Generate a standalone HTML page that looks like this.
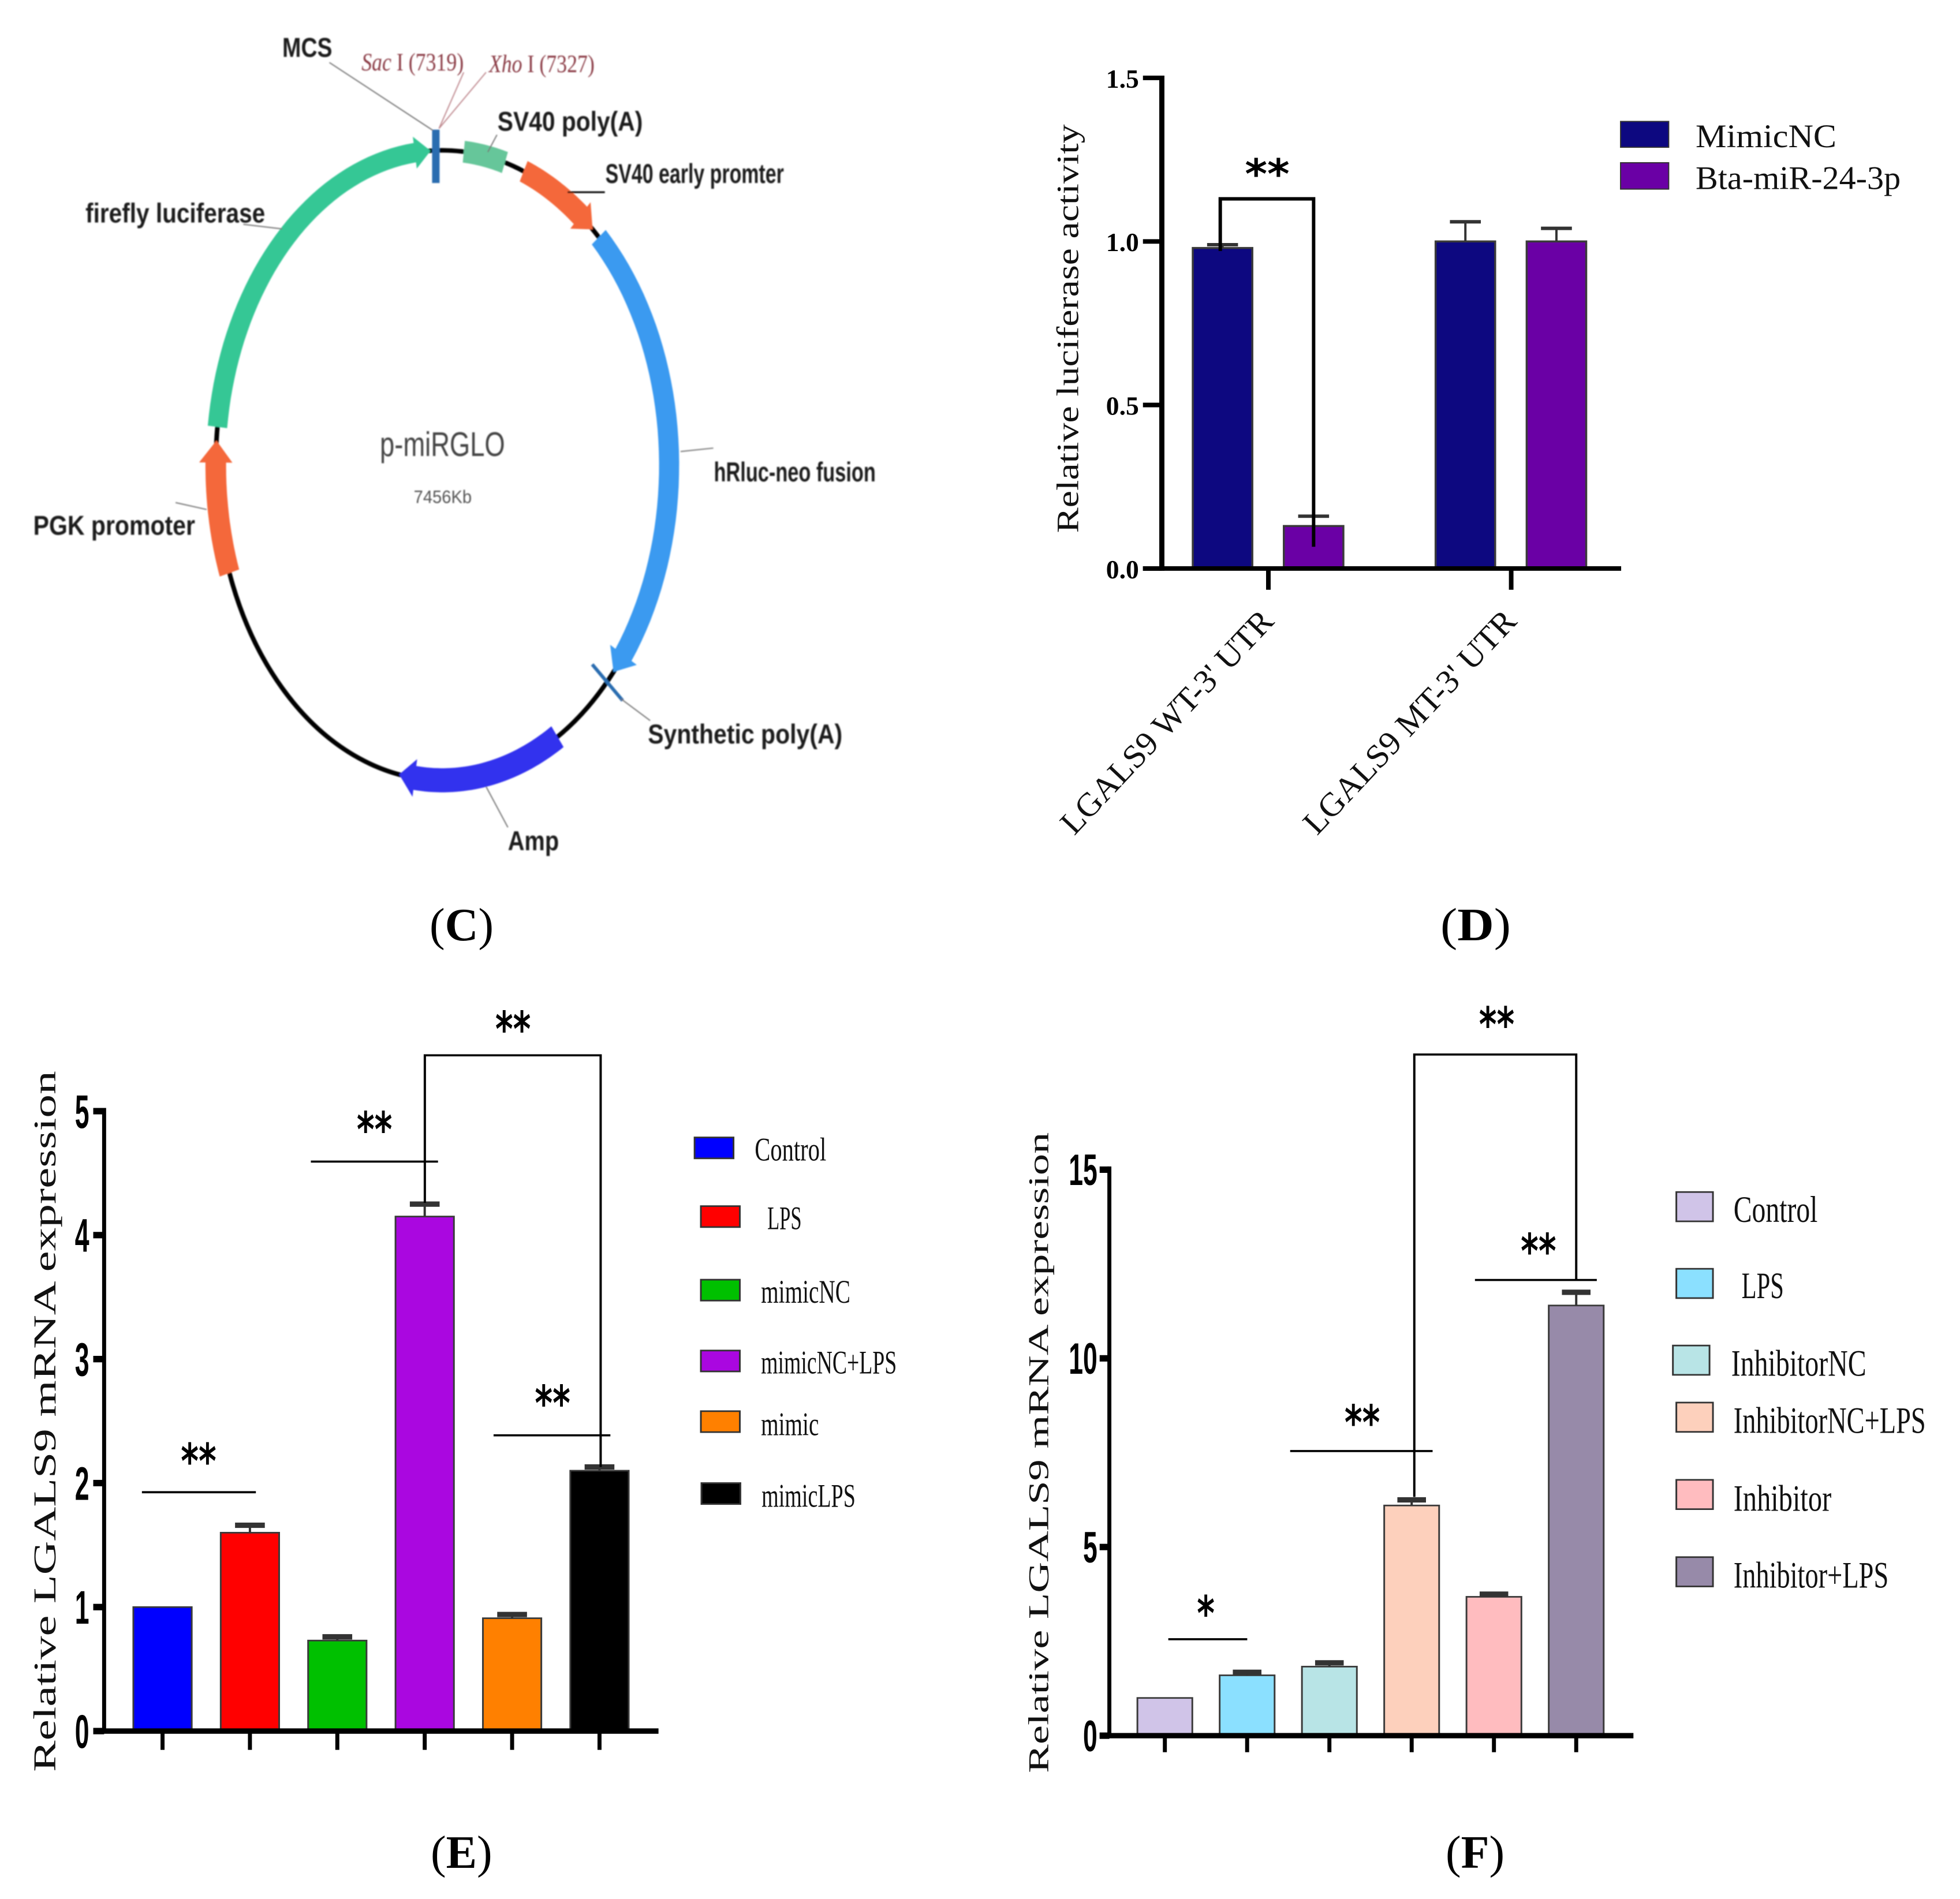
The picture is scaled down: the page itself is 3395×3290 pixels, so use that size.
<!DOCTYPE html>
<html lang="en">
<head>
<meta charset="utf-8">
<title>p-miRGLO plasmid and LGALS9 expression panels</title>
<style>
html,body{margin:0;padding:0;background:#fff;}
svg{display:block;}
.serif{font-family:"Liberation Serif",serif;}
.sans{font-family:"Liberation Sans",sans-serif;}
.pl{font-family:"Liberation Sans",sans-serif;font-weight:700;font-size:48px;fill:#1c1c1c;}
.site{font-family:"Liberation Serif",serif;font-size:44px;fill:#8a3a44;}
.panel{font-family:"Liberation Serif",serif;font-size:80px;fill:#000;}
.leg{font-family:"Liberation Serif",serif;font-size:62px;fill:#111;}
.legf{font-family:"Liberation Serif",serif;font-size:70px;fill:#111;}
.legd{font-family:"Liberation Serif",serif;font-size:58px;fill:#111;}
.star{font-family:"DejaVu Sans",sans-serif;font-weight:700;font-size:90px;fill:#000;}
.title{font-family:"Liberation Serif",serif;fill:#111;}
</style>
</head>
<body>
<svg id="figure" xmlns="http://www.w3.org/2000/svg" width="3395" height="3290" viewBox="0 0 3395 3290">
<defs><filter id="soft" filterUnits="userSpaceOnUse" x="0" y="0" width="1700" height="1600"><feGaussianBlur stdDeviation="1.2"/></filter></defs>
<rect width="3395" height="3290" fill="#fff"/>

<!-- Panel C -->
<g transform="matrix(.994 0 0 .994 0 0)">
<g id="plasmid" filter="url(#soft)">
  <ellipse cx="771" cy="811" rx="395" ry="549" fill="none" stroke="#000" stroke-width="8"/>
  <g id="plasmid-features"></g>
  <rect x="753" y="226" width="13" height="93" fill="#2a6db0"/>
  <line x1="1032" y1="1158" x2="1085" y2="1221" stroke="#2a6db0" stroke-width="6"/>
  <g stroke="#777" stroke-width="2" fill="none">
    <line x1="574" y1="109" x2="754" y2="227"/>
    <line x1="808" y1="126" x2="765" y2="224" stroke="#c08a90"/>
    <line x1="847" y1="126" x2="765" y2="224" stroke="#c08a90"/>
    <line x1="866" y1="235" x2="850" y2="265"/>
    <line x1="989" y1="335" x2="1054" y2="335" stroke="#000" stroke-width="3"/>
    <line x1="424" y1="391" x2="492" y2="399"/>
    <line x1="1186" y1="787" x2="1243" y2="781"/>
    <line x1="306" y1="876" x2="360" y2="888"/>
    <line x1="1082" y1="1218" x2="1133" y2="1256"/>
    <line x1="847" y1="1371" x2="885" y2="1442"/>
  </g>
  <text class="pl" x="492" y="99" textLength="87" lengthAdjust="spacingAndGlyphs">MCS</text>
  <text class="site" x="630" y="123" textLength="178" lengthAdjust="spacingAndGlyphs"><tspan font-style="italic">Sac</tspan> I (7319)</text>
  <text class="site" x="852" y="126" textLength="184" lengthAdjust="spacingAndGlyphs"><tspan font-style="italic">Xho</tspan> I (7327)</text>
  <text class="pl" x="867" y="228" textLength="253" lengthAdjust="spacingAndGlyphs">SV40 poly(A)</text>
  <text class="pl" x="1055" y="319" textLength="311" lengthAdjust="spacingAndGlyphs">SV40 early promter</text>
  <text class="pl" x="149" y="388" textLength="313" lengthAdjust="spacingAndGlyphs">firefly luciferase</text>
  <text class="pl" x="1244" y="839" textLength="282" lengthAdjust="spacingAndGlyphs">hRluc-neo fusion</text>
  <text class="pl" x="58" y="932" textLength="282" lengthAdjust="spacingAndGlyphs">PGK promoter</text>
  <text class="pl" x="1129" y="1296" textLength="339" lengthAdjust="spacingAndGlyphs">Synthetic poly(A)</text>
  <text class="pl" x="885" y="1482" textLength="89" lengthAdjust="spacingAndGlyphs">Amp</text>
  <text class="sans" x="662" y="795" font-size="60" fill="#444" textLength="218" lengthAdjust="spacingAndGlyphs">p-miRGLO</text>
  <text class="sans" x="721" y="877" font-size="32" fill="#555" textLength="101" lengthAdjust="spacingAndGlyphs">7456Kb</text>
</g>
</g>
<text class="panel" x="744" y="1629">(<tspan font-weight="700">C</tspan>)</text>

<!-- Panel D -->
<g id="chart-d" transform="matrix(.992 0 0 .993 13.6 .9)">
  <text class="title" font-size="54" transform="translate(1869,929) rotate(-90)" textLength="713" lengthAdjust="spacingAndGlyphs">Relative luciferase activity</text>
  <g id="d-marks"></g>
  <g stroke="#000" stroke-width="6" fill="none">
    <polyline points="2117,437 2117,346 2280,346 2280,953"/>
  </g>
  <text class="star" style="font-size:72px" x="2160" y="328" textLength="78" lengthAdjust="spacingAndGlyphs">**</text>
  <rect x="2816" y="211" width="84" height="45" fill="#0d0880" stroke="#333" stroke-width="2"/>
  <rect x="2816" y="283" width="84" height="46" fill="#6a00a5" stroke="#333" stroke-width="2"/>
  <text class="legd" x="2947" y="256" textLength="246" lengthAdjust="spacingAndGlyphs">MimicNC</text>
  <text class="legd" x="2947" y="329" textLength="358" lengthAdjust="spacingAndGlyphs">Bta-miR-24-3p</text>
</g>
<text class="panel" x="2495" y="1629" textLength="122" lengthAdjust="spacingAndGlyphs">(<tspan font-weight="700">D</tspan>)</text>

<!-- Panel E -->
<g id="chart-e" transform="matrix(.992 0 0 .9299 .8 117.3)">
  <text class="title" font-size="55" transform="translate(96,3175) rotate(-90)" textLength="1306" lengthAdjust="spacingAndGlyphs">Relative LGALS9 mRNA expression</text>
  <g id="e-marks"></g>
  <g stroke="#000" stroke-width="4" fill="none">
    <line x1="247" y1="2654" x2="446" y2="2654"/>
    <line x1="542" y1="2038" x2="764" y2="2038"/>
    <line x1="861" y1="2548" x2="1065" y2="2548"/>
    <polyline points="741,2115 741,1840 1048,1840 1048,2607"/>
  </g>
  <text class="star" x="315" y="2628" textLength="62" lengthAdjust="spacingAndGlyphs">**</text>
  <text class="star" x="622" y="2010" textLength="62" lengthAdjust="spacingAndGlyphs">**</text>
  <text class="star" x="933" y="2520" textLength="62" lengthAdjust="spacingAndGlyphs">**</text>
  <text class="star" x="864" y="1823" textLength="62" lengthAdjust="spacingAndGlyphs">**</text>
  <g stroke="#333" stroke-width="3">
    <rect x="1212" y="1993" width="68" height="39" fill="#0000ff"/>
    <rect x="1223" y="2121" width="68" height="39" fill="#ff0000"/>
    <rect x="1223" y="2258" width="68" height="39" fill="#00c000"/>
    <rect x="1223" y="2390" width="68" height="39" fill="#aa07e0"/>
    <rect x="1223" y="2503" width="68" height="39" fill="#ff8000"/>
    <rect x="1224" y="2637" width="68" height="39" fill="#000000"/>
  </g>
  <text class="leg" x="1317" y="2036" textLength="125" lengthAdjust="spacingAndGlyphs">Control</text>
  <text class="leg" x="1339" y="2164" textLength="60" lengthAdjust="spacingAndGlyphs">LPS</text>
  <text class="leg" x="1328" y="2301" textLength="156" lengthAdjust="spacingAndGlyphs">mimicNC</text>
  <text class="leg" x="1328" y="2433" textLength="237" lengthAdjust="spacingAndGlyphs">mimicNC+LPS</text>
  <text class="leg" x="1328" y="2548" textLength="101" lengthAdjust="spacingAndGlyphs">mimic</text>
  <text class="leg" x="1329" y="2681" textLength="164" lengthAdjust="spacingAndGlyphs">mimicLPS</text>
</g>
<text class="panel" x="746" y="3236">(<tspan font-weight="700">E</tspan>)</text>

<!-- Panel F -->
<g id="chart-f" transform="matrix(.991 0 0 .9234 13.9 136.2)">
  <text class="title" font-size="50" transform="translate(1818,3179) rotate(-90)" textLength="1202" lengthAdjust="spacingAndGlyphs">Relative LGALS9 mRNA expression</text>
  <g id="f-marks"></g>
  <g stroke="#000" stroke-width="4" fill="none">
    <line x1="2028" y1="2928" x2="2166" y2="2928"/>
    <line x1="2241" y1="2575" x2="2490" y2="2575"/>
    <line x1="2564" y1="2254" x2="2777" y2="2254"/>
    <polyline points="2458,2661 2458,1831 2741,1831 2741,2254"/>
  </g>
  <text class="star" x="2078" y="2911" textLength="31" lengthAdjust="spacingAndGlyphs">*</text>
  <text class="star" x="2336" y="2553" textLength="62" lengthAdjust="spacingAndGlyphs">**</text>
  <text class="star" x="2644" y="2231" textLength="62" lengthAdjust="spacingAndGlyphs">**</text>
  <text class="star" x="2571" y="1806" textLength="62" lengthAdjust="spacingAndGlyphs">**</text>
  <g stroke="#333" stroke-width="3">
    <rect x="2916" y="2089" width="64" height="55" fill="#d0c4e8"/>
    <rect x="2916" y="2233" width="64" height="55" fill="#8be0ff"/>
    <rect x="2910" y="2377" width="64" height="55" fill="#b8e4e6"/>
    <rect x="2916" y="2484" width="64" height="55" fill="#fdd0bc"/>
    <rect x="2916" y="2629" width="64" height="55" fill="#ffbcbf"/>
    <rect x="2916" y="2774" width="64" height="55" fill="#978aa9"/>
  </g>
  <text class="legf" x="3016" y="2145" textLength="147" lengthAdjust="spacingAndGlyphs">Control</text>
  <text class="legf" x="3030" y="2288" textLength="74" lengthAdjust="spacingAndGlyphs">LPS</text>
  <text class="legf" x="3012" y="2434" textLength="236" lengthAdjust="spacingAndGlyphs">InhibitorNC</text>
  <text class="legf" x="3016" y="2541" textLength="336" lengthAdjust="spacingAndGlyphs">InhibitorNC+LPS</text>
  <text class="legf" x="3016" y="2687" textLength="171" lengthAdjust="spacingAndGlyphs">Inhibitor</text>
  <text class="legf" x="3016" y="2831" textLength="271" lengthAdjust="spacingAndGlyphs">Inhibitor+LPS</text>
</g>
<text class="panel" x="2504" y="3236">(<tspan font-weight="700">F</tspan>)</text>
</svg>

<script>
// Panel D data
const dCategories = ["LGALS9 WT-3' UTR", "LGALS9 MT-3' UTR"];
const dMimicNC = [0.98, 1.0];
const dBtaMiR = [0.13, 1.0];
const dMimicNCErrTop = [0.99, 1.06];
const dBtaMiRErrTop = [0.16, 1.04];
const dTicks = ["0.0", "0.5", "1.0", "1.5"];

// Panel E data
const eCategories = ["Control", "LPS", "mimicNC", "mimicNC+LPS", "mimic", "mimicLPS"];
const eValues = [1.0, 1.6, 0.73, 4.15, 0.91, 2.1];
const eErrTop = [1.0, 1.66, 0.76, 4.25, 0.94, 2.13];
const eTicks = ["0", "1", "2", "3", "4", "5"];
const eColors = ["#0000ff", "#ff0000", "#00c000", "#aa07e0", "#ff8000", "#000000"];

// Panel F data
const fCategories = ["Control", "LPS", "InhibitorNC", "InhibitorNC+LPS", "Inhibitor", "Inhibitor+LPS"];
const fValues = [1.0, 1.6, 1.83, 6.1, 3.68, 11.4];
const fErrTop = [1.0, 1.68, 1.93, 6.25, 3.75, 11.75];
const fTicks = ["0", "5", "10", "15"];
const fColors = ["#d0c4e8", "#8be0ff", "#b8e4e6", "#fdd0bc", "#ffbcbf", "#978aa9"];

const NS = "http://www.w3.org/2000/svg";
function make(tag, attrs, parent) {
  const node = document.createElementNS(NS, tag);
  for (const k in attrs) node.setAttribute(k, attrs[k]);
  parent.appendChild(node);
  return node;
}

// Axis functions
const yD = v => 991 - (v / 1.5) * 856;
const xD = i => 2201 + i * 424;
const yE = v => 3099 - (v / 5) * 1155;
const xE = i => 283 + i * 152.6;
const yF = v => 3109 - (v / 15) * 1062;
const xF = i => 2022 + i * 143.8;

function drawBar(parent, cx, width, yTop, yBase, color, strokeW, name) {
  const bar = make("rect", {x: cx - width / 2, y: yTop, width: width, height: yBase - yTop, fill: color, stroke: "#3a3a3a", "stroke-width": strokeW}, parent);
  
  
}
function drawErr(parent, cx, capW, yVal, yErr, capThick, name) {
  if (Math.abs(yVal - yErr) < 0.5) return;
  const stem = make("line", {x1: cx, x2: cx, y1: yVal, y2: yErr, stroke: "#333", "stroke-width": 4}, parent);
  
  
  const cap = make("line", {x1: cx - capW / 2, x2: cx + capW / 2, y1: yErr, y2: yErr, stroke: "#333", "stroke-width": capThick}, parent);
  
  
}

// Panel D
(function () {
  const g = document.getElementById("d-marks");
  dCategories.forEach((cat, i) => {
    const c1 = xD(i) - 80, c2 = xD(i) + 79;
    drawBar(g, c1, 104, yD(dMimicNC[i]), 991, "#0d0880", 3.5, "d-bar-mimicnc-" + i);
    drawBar(g, c2, 104, yD(dBtaMiR[i]), 991, "#6a00a5", 3.5, "d-bar-bta-mir-" + i);
    drawErr(g, c1, 54, yD(dMimicNC[i]), yD(dMimicNCErrTop[i]), 6, "d-error-mimicnc-" + i);
    drawErr(g, c2, 54, yD(dBtaMiR[i]), yD(dBtaMiRErrTop[i]), 6, "d-error-bta-mir-" + i);
    const tick = make("line", {x1: xD(i), x2: xD(i), y1: 991, y2: 1028, stroke: "#000", "stroke-width": 8}, g);
    
    
    const label = make("text", {transform: "translate(" + (xD(i) - 339) + ",1458) rotate(-46.7)", "class": "title", "font-size": 58, textLength: 512, lengthAdjust: "spacingAndGlyphs"}, g);
    label.textContent = cat;
    
    
  });
  const yAxis = make("line", {x1: 2015, x2: 2015, y1: 131, y2: 995, stroke: "#000", "stroke-width": 9}, g);
  
  
  const xAxis = make("line", {x1: 1982, x2: 2817, y1: 991, y2: 991, stroke: "#000", "stroke-width": 8}, g);
  
  
  dTicks.forEach(t => {
    const tick = make("line", {x1: 1982, x2: 2015, y1: yD(+t), y2: yD(+t), stroke: "#000", "stroke-width": 8}, g);
    
    
    const lab = make("text", {x: 1975, y: yD(+t) + 17, "text-anchor": "end", "class": "serif", "font-size": 46, "font-weight": 700, fill: "#000"}, g);
    lab.textContent = t;
    
    
  });
})();

// Panels E and F share a layout
function drawPanel(prefix, g, cats, vals, errs, colors, ticks, xf, yf, o) {
  cats.forEach((cat, i) => {
    drawBar(g, xf(i), o.barW, yf(vals[i]), o.base, colors[i], 3, prefix + "-bar-" + i);
    drawErr(g, xf(i), o.capW, yf(vals[i]), yf(errs[i]), 10, prefix + "-error-" + i);
    const tick = make("line", {x1: xf(i), x2: xf(i), y1: o.base, y2: o.tickEnd, stroke: "#000", "stroke-width": 7}, g);
    
    
  });
  const yAxis = make("line", {x1: o.axisX, x2: o.axisX, y1: yf(+ticks[ticks.length - 1]) - 6, y2: o.base + 4, stroke: "#000", "stroke-width": 7}, g);
  
  
  const xAxis = make("line", {x1: o.x0, x2: o.x1, y1: o.base, y2: o.base, stroke: "#000", "stroke-width": 10}, g);
  
  
  ticks.forEach(t => {
    const tick = make("line", {x1: o.x0, x2: o.axisX, y1: yf(+t), y2: yf(+t), stroke: "#000", "stroke-width": 12}, g);
    
    
    const w = o.digitW * t.length;
    const lab = make("text", {x: o.labelEnd - w, y: yf(+t) + o.labelDy, "class": "sans", "font-size": o.labelSize, "font-weight": 700, fill: "#000", textLength: w, lengthAdjust: "spacingAndGlyphs"}, g);
    lab.textContent = t;
    
    
  });
}
drawPanel("e", document.getElementById("e-marks"), eCategories, eValues, eErrTop, eColors, eTicks, xE, yE,
  {barW: 102, capW: 52, base: 3099, tickEnd: 3134, axisX: 181, x0: 162, x1: 1149, digitW: 25, labelEnd: 155, labelDy: 31, labelSize: 88});
drawPanel("f", document.getElementById("f-marks"), fCategories, fValues, fErrTop, fColors, fTicks, xF, yF,
  {barW: 96, capW: 50, base: 3109, tickEnd: 3140, axisX: 1925, x0: 1908, x1: 2841, digitW: 25, labelEnd: 1904, labelDy: 29, labelSize: 82});

// Plasmid features
(function () {
  const g = document.getElementById("plasmid-features");
  const cx = 771, cy = 811, rx = 395, ry = 549;
  const pt = (t, off) => {
    const a = t * Math.PI / 180;
    return (cx + (rx + off) * Math.sin(a)).toFixed(1) + "," + (cy - (ry + off) * Math.cos(a)).toFixed(1);
  };
  function feature(t0, t1, w, headW, headDeg, color, name) {
    const tb = t1 - headDeg, outer = [], inner = [];
    for (let i = 0; i <= 40; i++) {
      const t = t0 + (tb - t0) * i / 40;
      outer.push(pt(t, w / 2));
      inner.unshift(pt(t, -w / 2));
    }
    const pts = headDeg > 0 ? outer.concat([pt(tb, headW / 2), pt(t1, 0), pt(tb, -headW / 2)], inner) : outer.concat(inner);
    const poly = make("polygon", {points: pts.join(" "), fill: color}, g);
    
    
  }
  feature(-83, -3, 34, 56, 4, "#35c795", "firefly-luciferase-arrow");
  feature(5.4, 16, 38, 38, 0, "#66c69a", "sv40-polya-block");
  feature(21, 41.5, 38, 58, 4, "#f4673a", "sv40-promoter-arrow");
  feature(43.6, 131, 35, 58, 4, "#3b9af0", "hrluc-neo-arrow");
  feature(149.5, 191, 42, 66, 4, "#3333ee", "amp-arrow");
  feature(-110, -85.5, 36, 58, 4, "#f4673a", "pgk-promoter-arrow");
})();
</script>
</body>
</html>
